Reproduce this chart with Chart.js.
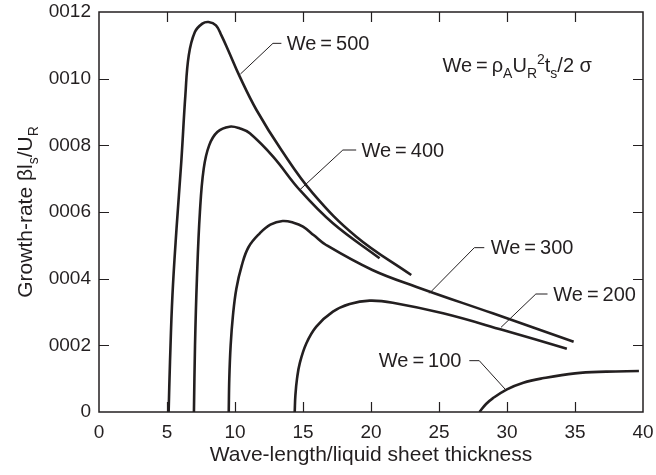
<!DOCTYPE html>
<html>
<head>
<meta charset="utf-8">
<script src="https://cdn.jsdelivr.net/npm/chart.js@4.4.1/dist/chart.umd.min.js"></script>
<style>
  html, body { margin: 0; padding: 0; background: #ffffff; }
  #wrap { width: 656px; height: 475px; position: relative; }
</style>
</head>
<body>
<div id="wrap"><canvas id="c" width="656" height="475"></canvas></div>
<script>
// ---------- data ----------
const xTickValues = [0, 5, 10, 15, 20, 25, 30, 35, 40];
const xTickLabels = ["0", "5", "10", "15", "20", "25", "30", "35", "40"];
const yTickValues = [0, 0.0002, 0.0004, 0.0006, 0.0008, 0.0010, 0.0012];
const yTickLabels = ["0", "0002", "0004", "0006", "0008", "0010", "0012"];

const seriesNames = ["We\u2009=\u2009500", "We\u2009=\u2009400", "We\u2009=\u2009300", "We\u2009=\u2009200", "We\u2009=\u2009100"];

const we500 = [[5.12,0],[5.22,0.00015],[5.4,0.00035],[5.7,0.00055],[6.05,0.00075],[6.35,0.00095],[6.6,0.00107],[7.05,0.00114],[7.6,0.001165],[8.05,0.00117],[8.6,0.00116],[9.0,0.00113],[9.49,0.001086],[10.35,0.001006],[11.58,0.000906],[13.41,0.000786],[15.73,0.000656],[18.92,0.000526],[22.96,0.000411]];
const we400 = [[6.98,0],[7.06,0.0002],[7.2,0.0004],[7.42,0.0006],[7.7,0.00073],[8.1,0.0008],[8.7,0.00084],[9.6,0.000856],[10.4,0.00085],[11.09,0.000836],[12.8,0.000766],[14.76,0.000666],[17.2,0.000566],[20.63,0.000461]];
const we300 = [[9.54,0],[9.58,0.0001],[9.68,0.0002],[9.85,0.00029],[10.1,0.00037],[10.5,0.00044],[11.0,0.000495],[11.82,0.000536],[12.6,0.000562],[13.5,0.000573],[14.3,0.000568],[15.0,0.000556],[15.8,0.00053],[16.7,0.000501],[20.1,0.000426],[23.3,0.000376],[28.95,0.000296],[34.9,0.000211]];
const we200 = [[14.39,0],[14.44,0.00005],[14.56,0.0001],[14.76,0.000146],[15.25,0.000206],[15.98,0.000256],[17.2,0.000301],[18.43,0.000324],[19.9,0.000334],[21.6,0.000328],[25.3,0.000296],[29.7,0.000246],[34.4,0.00019]];
const we100 = [[27.97,0],[28.46,0.000024],[28.95,0.000041],[30.0,0.000068],[31.2,0.000088],[32.6,0.000101],[35.0,0.000116],[37.3,0.000121],[39.7,0.000123]];

// ---------- styling / annotation geometry ----------
const INK = "#231f20";
const FONT = "'Liberation Sans', Arial, Helvetica, sans-serif";
const TICK_PX = 19;
const TITLE_PX = 21;
const LABEL_PX = 20;

// leader lines given in data units
const leaders = [
  { name: 0, pts: [[10.4,0.001014],[12.79,0.001106],[13.41,0.001106]], tx: 13.8, ty: 0.001106 },
  { name: 1, pts: [[14.75,0.000666],[17.93,0.000786],[18.91,0.000786]], tx: 19.3, ty: 0.000786 },
  { name: 2, pts: [[24.29,0.000356],[27.6,0.000493],[28.33,0.000493]], tx: 28.8, ty: 0.000493 },
  { name: 3, pts: [[29.56,0.000254],[32.12,0.000354],[32.98,0.000354]], tx: 33.4, ty: 0.000354 },
  { name: 4, pts: [[29.92,0.000066],[27.96,0.000154],[27.23,0.000154]], tx: 26.65, ty: 0.000154, right: true }
];

function toXY(arr) { return arr.map(p => ({ x: p[0], y: p[1] })); }

function drawRich(ctx, parts, x, y, size, align) {
  let w = 0;
  const fontFor = p => ((p.sub || p.sup) ? Math.round(size * 0.68) : size) + "px " + FONT;
  parts.forEach(p => { ctx.font = fontFor(p); p._w = ctx.measureText(p.t).width; w += p._w; });
  let cx = align === "center" ? x - w / 2 : (align === "right" ? x - w : x);
  ctx.textAlign = "left";
  ctx.textBaseline = "alphabetic";
  parts.forEach(p => {
    ctx.font = fontFor(p);
    let dy = 0;
    if (p.sub) dy = size * 0.28;
    if (p.sup) dy = -size * 0.38;
    ctx.fillText(p.t, cx, y + dy);
    cx += p._w;
  });
}

const decor = {
  id: "decor",
  afterDraw(chart) {
    const ctx = chart.ctx;
    const a = chart.chartArea;
    const xs = chart.scales.x, ys = chart.scales.y;
    ctx.save();
    ctx.strokeStyle = INK;
    ctx.fillStyle = INK;
    ctx.lineWidth = 1.5;
    ctx.strokeRect(a.left, a.top, a.right - a.left, a.bottom - a.top);
    ctx.lineWidth = 1.2;
    ctx.beginPath();
    xTickValues.slice(1, -1).forEach(v => {
      const px = Math.round(xs.getPixelForValue(v)) + 0.5;
      ctx.moveTo(px, a.bottom); ctx.lineTo(px, a.bottom - 10);
      ctx.moveTo(px, a.top); ctx.lineTo(px, a.top + 10);
    });
    yTickValues.slice(1, -1).forEach(v => {
      const py = Math.round(ys.getPixelForValue(v)) + 0.5;
      ctx.moveTo(a.left, py); ctx.lineTo(a.left + 10, py);
      ctx.moveTo(a.right, py); ctx.lineTo(a.right - 10, py);
    });
    ctx.stroke();
    ctx.lineWidth = 1;
    leaders.forEach(L => {
      ctx.beginPath();
      L.pts.forEach((p, i) => {
        const px = xs.getPixelForValue(p[0]), py = ys.getPixelForValue(p[1]);
        if (i === 0) ctx.moveTo(px, py); else ctx.lineTo(px, py);
      });
      ctx.stroke();
      ctx.font = LABEL_PX + "px " + FONT;
      ctx.textAlign = L.right ? "right" : "left";
      ctx.textBaseline = "middle";
      ctx.fillText(seriesNames[L.name], xs.getPixelForValue(L.tx), ys.getPixelForValue(L.ty) + 1);
    });
    drawRich(ctx, [
      { t: "We\u2009=\u2009\u03C1" }, { t: "A", sub: true }, { t: "U" }, { t: "R", sub: true },
      { t: "2", sup: true }, { t: "t" }, { t: "s", sub: true }, { t: "/2 \u03C3" }
    ], xs.getPixelForValue(25.25), ys.getPixelForValue(0.001041) + 7, LABEL_PX, "left");
    drawRich(ctx, [{ t: "Wave-length/liquid sheet thickness" }], (a.left + a.right) / 2, 461, TITLE_PX, "center");
    ctx.translate(32, (a.top + a.bottom) / 2);
    ctx.rotate(-Math.PI / 2);
    drawRich(ctx, [
      { t: "Growth-rate \u03B2l" }, { t: "s", sub: true }, { t: "/U" }, { t: "R", sub: true }
    ], 0, 0, TITLE_PX, "center");
    ctx.restore();
  }
};

const mk = (arr) => ({
  data: toXY(arr),
  showLine: true,
  borderColor: INK,
  borderWidth: 2.6,
  pointRadius: 0,
  fill: false,
  tension: 0.4
});

const zeroPad = s => { s.paddingTop = 0; s.paddingBottom = 0; s.paddingLeft = 0; s.paddingRight = 0; };

new Chart(document.getElementById("c"), {
  type: "scatter",
  data: { datasets: [mk(we500), mk(we400), mk(we300), mk(we200), mk(we100)] },
  options: {
    responsive: false,
    animation: false,
    devicePixelRatio: 1,
    layout: { padding: { top: 12, right: 13, left: 0, bottom: 0 } },
    plugins: { legend: { display: false }, tooltip: { enabled: false } },
    scales: {
      x: {
        type: "linear", min: 0, max: 40,
        afterBuildTicks: s => { s.ticks = xTickValues.map(v => ({ value: v })); },
        afterFit: s => { s.height = 63; zeroPad(s); },
        grid: { display: false, drawTicks: false },
        border: { display: false },
        ticks: {
          padding: 9, color: INK, font: { family: FONT, size: TICK_PX },
          callback: (v) => { const i = xTickValues.indexOf(v); return i >= 0 ? xTickLabels[i] : ""; }
        }
      },
      y: {
        type: "linear", min: 0, max: 0.0012,
        afterBuildTicks: s => { s.ticks = yTickValues.map(v => ({ value: v })); },
        afterFit: s => { s.width = 99; zeroPad(s); },
        grid: { display: false, drawTicks: false },
        border: { display: false },
        ticks: {
          padding: 8, color: INK, font: { family: FONT, size: TICK_PX },
          callback: (v) => { const i = yTickValues.findIndex(t => Math.abs(t - v) < 1e-9); return i >= 0 ? yTickLabels[i] : ""; }
        }
      }
    }
  },
  plugins: [decor]
});
</script>
</body>
</html>
